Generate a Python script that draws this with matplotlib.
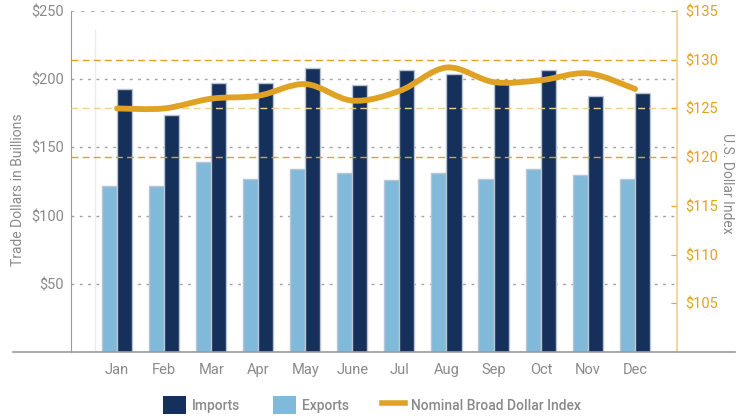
import matplotlib
matplotlib.use("Agg")
import matplotlib.pyplot as plt
from matplotlib.path import Path
from matplotlib.patches import PathPatch, Patch
from matplotlib.lines import Line2D
import numpy as np

months = ["Jan", "Feb", "Mar", "Apr", "May", "June", "Jul", "Aug", "Sep", "Oct", "Nov", "Dec"]
imports = [193, 174, 197, 197, 208.5, 195.5, 207, 204, 199, 207, 188, 190]
exports = [122, 122, 139.5, 127, 134.5, 131, 126, 131, 127, 134.5, 129.5, 127]
dollar_index = [125.0, 125.0, 126.0, 126.3, 127.5, 125.8, 126.8, 129.2, 127.7, 127.9, 128.6, 127.0]
left_ticks = [50, 100, 150, 200, 250]
right_ticks = [105, 110, 115, 120, 125, 130, 135]

FONT = ["Roboto", "DejaVu Sans"]
plt.rcParams["font.family"] = FONT

NAVY = "#15305a"
LIGHT = "#80b9da"
EDGE = "#b9c6d2"
GOLD = "#e0a225"
GRAY = "#8a8a8a"

fig = plt.figure(figsize=(7.43, 4.18), dpi=100)
ax = fig.add_axes([71/743, 1-352/418, (677-71)/743, (352-11)/418])
ax2 = ax.twinx()

x = np.arange(len(months))
ax.set_xlim(-0.977, 11.89)
ax.set_ylim(0, 250)
ax2.set_ylim(100, 135)

# faint vertical line
ax.axvline(-0.467, ymin=0, ymax=0.945, color="#ececec", lw=1, zorder=0)

# gridlines
for t in left_ticks[:-1]:
    ax.axhline(t, color="#a0a0a0", lw=1, ls=(0, (2, 4)), zorder=0.5)
ax.axhline(250, xmin=0, xmax=0.48, color="#a0a0a0", lw=1.2, ls=(0, (2, 4)), zorder=0.5)
ax2.axhline(135, xmin=0.48, xmax=1, color="#f0c060", lw=1.2, ls=(0, (2, 4)), zorder=0.5)
for t, c in [(120, GOLD), (125, "#f0d28e"), (130, GOLD)]:
    ax2.axhline(t, color=c, lw=1, ls=(0, (5, 3)), zorder=0.5)

w = 0.32
ax.bar(x - 0.165, exports, width=w, color=LIGHT, edgecolor=EDGE, lw=1, zorder=2)
ax.bar(x + 0.155, imports, width=w, color=NAVY, edgecolor=EDGE, lw=1, zorder=2)

# smooth line via Catmull-Rom -> Bezier
pts = np.column_stack([x, dollar_index]).astype(float)
verts = [tuple(pts[0])]
codes = [Path.MOVETO]
n = len(pts)
for i in range(n - 1):
    p0 = pts[i - 1] if i > 0 else pts[i]
    p1 = pts[i]
    p2 = pts[i + 1]
    p3 = pts[i + 2] if i + 2 < n else pts[i + 1]
    c1 = p1 + (p2 - p0) / 6.0
    c2 = p2 - (p3 - p1) / 6.0
    verts += [tuple(c1), tuple(c2), tuple(p2)]
    codes += [Path.CURVE4] * 3
patch = PathPatch(Path(verts, codes), facecolor="none", edgecolor=GOLD, lw=4.2,
                  capstyle="round", joinstyle="round", zorder=5)
ax2.add_patch(patch)
ax2.set_zorder(ax.get_zorder() + 1)
ax2.patch.set_visible(False)

# axes styling
for s in ["top", "right", "bottom"]:
    ax.spines[s].set_visible(False)
ax.spines["left"].set_color("#9a9a9a")
for s in ["top", "left", "bottom"]:
    ax2.spines[s].set_visible(False)
ax2.spines["right"].set_color("#f2cf85")
ax2.spines["right"].set_linewidth(1.2)

ax.set_yticks(left_ticks)
ax.set_yticklabels([f"${t}" for t in left_ticks], fontsize=10.5, color=GRAY)
ax.tick_params(axis="y", length=0, pad=5)
ax.set_xticks(x)
ax.set_xticklabels(months, fontsize=10.5, color=GRAY)
ax.tick_params(axis="x", length=0, pad=8)

ax2.set_yticks(right_ticks)
ax2.set_yticklabels([f"${t}" for t in right_ticks], fontsize=10.5, color=GOLD)
ax2.tick_params(axis="y", direction="in", length=4, color=GOLD, pad=6)

fig.text(18/743, 1-190/418, "Trade Dollars in Buillions", rotation=90, ha="center", va="center",
         fontsize=10, color=GRAY)
fig.text(727/743, 1-183/418, "U.S. Dollar Index", rotation=270, ha="center", va="center",
         fontsize=10, color=GRAY)

# bottom baseline extending beyond axes
fig.add_artist(Line2D([13/743, 735/743], [1-352/418, 1-352/418], color="#9a9a9a", lw=1.2))

handles = [Patch(facecolor=NAVY, edgecolor="none"),
           Patch(facecolor=LIGHT, edgecolor="none"),
           Line2D([0], [0], color=GOLD, lw=4)]
leg = fig.legend(handles, ["Imports", "Exports", "Nominal Broad Dollar Index"], loc="center",
                 bbox_to_anchor=(372/743, 1-405/418), ncol=3, frameon=False, fontsize=10,
                 handlelength=1.65, handleheight=1.65, columnspacing=2.4, handletextpad=0.4)
for t in leg.get_texts():
    t.set_color(GRAY)
    t.set_fontweight("medium")

fig.savefig("out.png", dpi=100)
